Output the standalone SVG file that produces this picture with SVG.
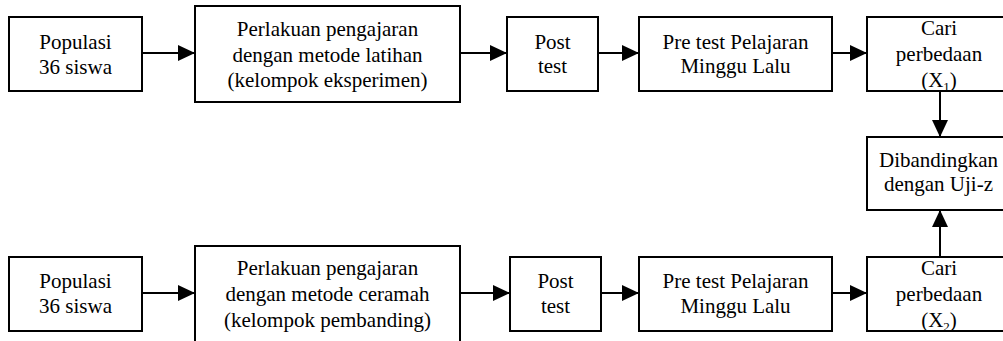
<svg xmlns="http://www.w3.org/2000/svg" width="1003" height="341" viewBox="0 0 1003 341">
  <style>
    .box { fill: #ffffff; stroke: #000000; stroke-width: 2; }
    text { font-family: 'Liberation Serif', serif; font-size: 21px; fill: #000000; text-anchor: middle; }
    .sub { font-size: 13px; }
    .link { stroke: #000000; stroke-width: 2; fill: none; marker-end: url(#head); }
  </style>
  <defs>
    <marker id="head" markerUnits="userSpaceOnUse" markerWidth="18" markerHeight="16" refX="17" refY="8" orient="auto">
      <path d="M0,0 L17,8 L0,16 Z" fill="#000000"/>
    </marker>
  </defs>
  <rect width="1003" height="341" fill="#ffffff"/>

  <!-- experiment group (top row) -->
  <g id="pop1">
    <rect class="box" x="9" y="17" width="133" height="74"/>
    <text x="75.5" y="49">Populasi</text>
    <text x="75.5" y="74">36 siswa</text>
  </g>
  <g id="treat1">
    <rect class="box" x="195" y="6" width="265" height="96"/>
    <text x="327.5" y="36">Perlakuan pengajaran</text>
    <text x="327.5" y="62">dengan metode latihan</text>
    <text x="327.5" y="87">(kelompok eksperimen)</text>
  </g>
  <g id="post1">
    <rect class="box" x="507" y="17" width="91" height="74"/>
    <text x="552.5" y="49">Post</text>
    <text x="552.5" y="73">test</text>
  </g>
  <g id="pre1">
    <rect class="box" x="639" y="17" width="193" height="74"/>
    <text x="735.5" y="49">Pre test Pelajaran</text>
    <text x="735.5" y="73">Minggu Lalu</text>
  </g>
  <g id="diff1">
    <rect class="box" x="867" y="17" width="145" height="74"/>
    <text x="939" y="35">Cari</text>
    <text x="939" y="61">perbedaan</text>
    <text x="939" y="87">(X<tspan class="sub" dy="4">1</tspan><tspan dy="-4">)</tspan></text>
  </g>

  <!-- comparison -->
  <g id="compare">
    <rect class="box" x="867" y="137" width="145" height="73"/>
    <text x="938.5" y="167">Dibandingkan</text>
    <text x="938.5" y="191">dengan Uji-z</text>
  </g>

  <!-- comparison group (bottom row) -->
  <g id="pop2">
    <rect class="box" x="9" y="257" width="133" height="74"/>
    <text x="75.5" y="288">Populasi</text>
    <text x="75.5" y="313">36 siswa</text>
  </g>
  <g id="treat2">
    <rect class="box" x="195" y="246" width="265" height="110"/>
    <text x="327.5" y="275">Perlakuan pengajaran</text>
    <text x="327.5" y="301">dengan metode ceramah</text>
    <text x="327.5" y="327">(kelompok pembanding)</text>
  </g>
  <g id="post2">
    <rect class="box" x="510" y="257" width="91" height="74"/>
    <text x="555.5" y="288">Post</text>
    <text x="555.5" y="313">test</text>
  </g>
  <g id="pre2">
    <rect class="box" x="639" y="257" width="193" height="74"/>
    <text x="735.5" y="288">Pre test Pelajaran</text>
    <text x="735.5" y="313">Minggu Lalu</text>
  </g>
  <g id="diff2">
    <rect class="box" x="867" y="257" width="145" height="74"/>
    <text x="939" y="275">Cari</text>
    <text x="939" y="301">perbedaan</text>
    <text x="939" y="327">(X<tspan class="sub" dy="4">2</tspan><tspan dy="-4">)</tspan></text>
  </g>

  <!-- connectors -->
  <g id="connectors">
    <line class="link" x1="142" y1="53" x2="195" y2="53"/>
    <line class="link" x1="460" y1="53" x2="507" y2="53"/>
    <line class="link" x1="598" y1="53" x2="639" y2="53"/>
    <line class="link" x1="832" y1="53" x2="867" y2="53"/>
    <line class="link" x1="940" y1="91" x2="940" y2="137"/>
    <line class="link" x1="142" y1="293" x2="195" y2="293"/>
    <line class="link" x1="460" y1="293" x2="510" y2="293"/>
    <line class="link" x1="601" y1="293" x2="639" y2="293"/>
    <line class="link" x1="832" y1="293" x2="867" y2="293"/>
    <line class="link" x1="940" y1="257" x2="940" y2="210"/>
  </g>
</svg>
